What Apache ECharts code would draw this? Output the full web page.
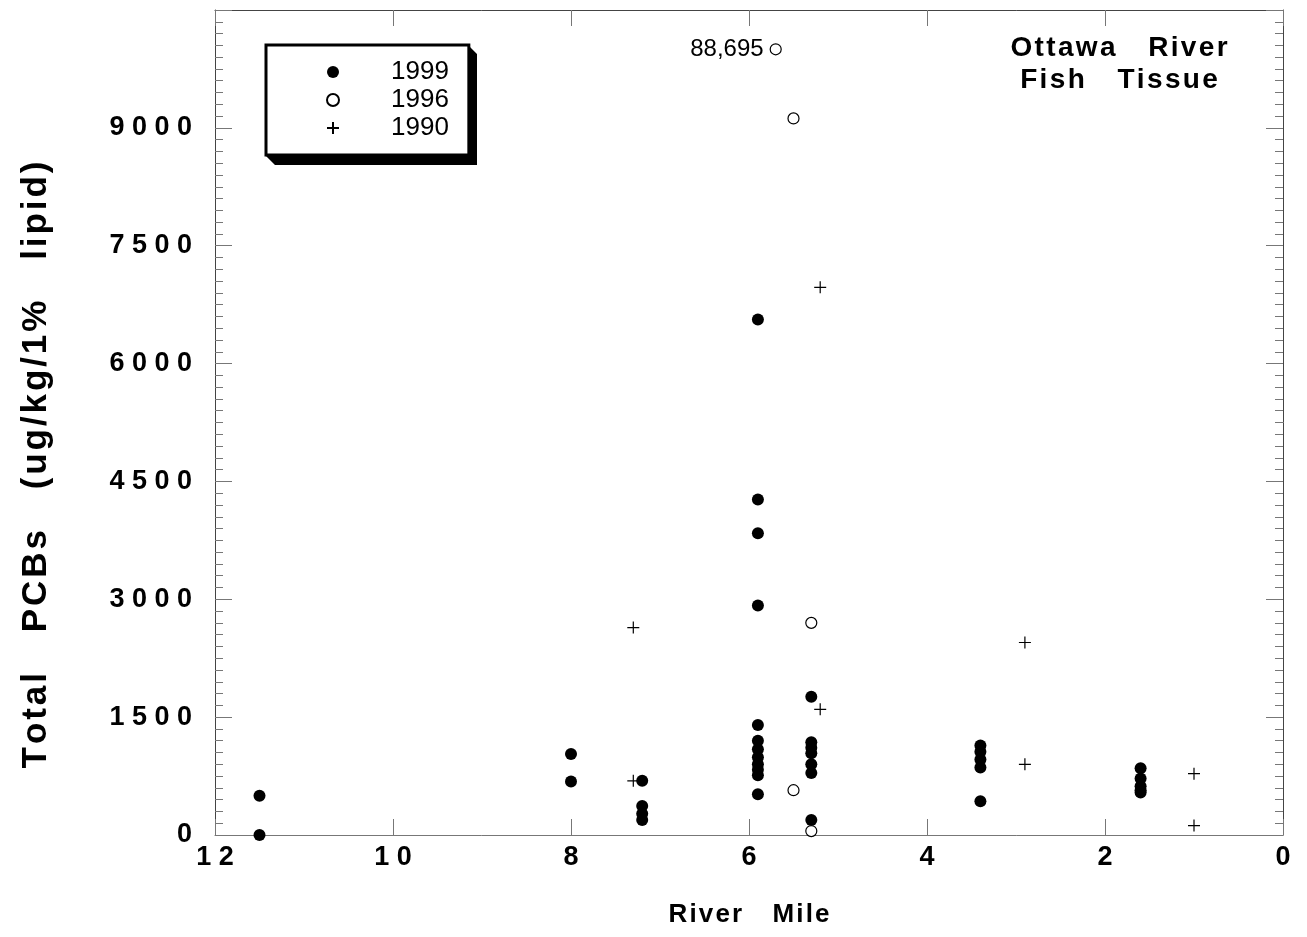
<!DOCTYPE html>
<html>
<head>
<meta charset="utf-8">
<title>Ottawa River Fish Tissue</title>
<script src="https://cdn.jsdelivr.net/npm/echarts@6/dist/echarts.min.js"></script>
<style>
html, body { margin: 0; padding: 0; background: #fff; }
#chart { width: 1307px; height: 937px; }
</style>
</head>
<body>
<div id="chart"></div>
<script>
// [river mile, total PCBs ug/kg/1% lipid]
const fish1999 = [
  [11.5, 500], [11.5, 0],
  [8.0, 1030], [8.0, 680],
  [7.2, 690], [7.2, 370], [7.2, 270], [7.2, 190],
  [5.9, 6560], [5.9, 4270], [5.9, 3840], [5.9, 2920], [5.9, 1400], [5.9, 1200],
  [5.9, 1090], [5.9, 990], [5.9, 900], [5.9, 830], [5.9, 760], [5.9, 520],
  [5.3, 1760], [5.3, 1180], [5.3, 1110], [5.3, 1040], [5.3, 900], [5.3, 790], [5.3, 190],
  [3.4, 1140], [3.4, 1060], [3.4, 960], [3.4, 860], [3.4, 430],
  [1.6, 850], [1.6, 720], [1.6, 620], [1.6, 570], [1.6, 540]
]
const fish1996 = [
  [5.7, 88695], [5.5, 9120], [5.3, 2700], [5.5, 570], [5.3, 50]
]
const fish1990 = [
  [7.3, 2640], [7.3, 690], [5.2, 6970], [5.2, 1600],
  [2.9, 2450], [2.9, 900], [1.0, 780], [1.0, 120]
]
const yearNames = ['1999', '1996', '1990']
const xTicks = { min: 0, max: 12, step: 2 }
const yTicks = { min: 0, max: 10500, step: 1500 }
// off-scale values are drawn at this height, with their value written beside
const offScaleAt = 10000

const FONT = 'Liberation Sans, Arial, sans-serif'
const HAIR = '\u200A'

// the original text is letter-spaced
function spaced(str) {
  return str.split(' ').filter(w => w).map(w => w.split('').join(HAIR)).join(HAIR + '\u2003' + HAIR)
}

function toPoints(arr) {
  return arr.map(([m, v]) => {
    if (v > yTicks.max) {
      return {
        value: [m, offScaleAt],
        label: { show: true, formatter: v.toLocaleString('en-US') }
      }
    }
    return [m, v]
  })
}

let myChart = echarts.init(document.getElementById('chart'))

const tickStyle = { color: '#777', width: 1 }

// legend box 266..468 x 45..156, with a solid bevelled shadow
const lg = { l: 266, t: 45, r: 468, b: 156, d: 9 }

myChart.setOption({
  animation: false,
  backgroundColor: '#fff',
  grid: { left: 215, right: 24, top: 10, bottom: 102 },
  title: {
    text: spaced('Ottawa River') + '\n' + spaced('Fish Tissue'),
    left: 1119,
    top: 32,
    padding: 0,
    textAlign: 'center',
    textStyle: {
      fontFamily: FONT, fontWeight: 'bold', fontSize: 28, lineHeight: 32, color: '#000'
    }
  },
  graphic: [
    {
      type: 'polygon',
      z: 1,
      shape: {
        points: [
          [lg.r, lg.t], [lg.r + lg.d, lg.t + lg.d], [lg.r + lg.d, lg.b + lg.d],
          [lg.l + lg.d, lg.b + lg.d], [lg.l, lg.b], [lg.r, lg.b]
        ]
      },
      style: { fill: '#000' }
    },
    {
      type: 'text',
      x: 36,
      y: 465,
      rotation: Math.PI / 2,
      style: {
        text: spaced('Total PCBs (ug/kg/1% lipid)'),
        font: 'bold 35px ' + FONT,
        fill: '#000',
        align: 'center',
        verticalAlign: 'middle'
      }
    }
  ],
  legend: {
    orient: 'vertical',
    left: lg.l,
    top: lg.t,
    padding: [13, 20, 13, 60],
    itemGap: 0,
    itemWidth: 12,
    itemHeight: 12,
    backgroundColor: '#fff',
    borderColor: '#000',
    borderWidth: 3,
    borderRadius: 0,
    data: yearNames,
    textStyle: {
      fontFamily: FONT, fontSize: 26, lineHeight: 28, color: '#000',
      padding: [0, 0, 0, 47]
    }
  },
  xAxis: [
    {
      type: 'value',
      min: xTicks.min, max: xTicks.max, interval: xTicks.step,
      inverse: true,
      position: 'bottom',
      name: spaced('River Mile'),
      nameLocation: 'middle',
      nameGap: 67,
      nameTextStyle: { fontFamily: FONT, fontWeight: 'bold', fontSize: 26, color: '#000' },
      axisLine: { onZero: false, lineStyle: { color: '#777', width: 1 } },
      axisTick: { inside: true, length: 16, lineStyle: tickStyle },
      axisLabel: {
        margin: 9,
        fontFamily: FONT, fontWeight: 'bold', fontSize: 27, color: '#000',
        formatter: v => String(v).split('').join(' ')
      },
      splitLine: { show: false }
    },
    {
      type: 'value',
      min: xTicks.min, max: xTicks.max, interval: xTicks.step,
      inverse: true,
      position: 'top',
      axisLine: { onZero: false, lineStyle: { color: '#444', width: 1 } },
      axisTick: { inside: true, length: 16, lineStyle: tickStyle },
      axisLabel: { show: false },
      splitLine: { show: false }
    }
  ],
  yAxis: [
    {
      type: 'value',
      min: yTicks.min, max: yTicks.max, interval: yTicks.step,
      position: 'left',
      axisLine: { onZero: false, lineStyle: { color: '#444', width: 1 } },
      axisTick: { inside: true, length: 17, lineStyle: tickStyle },
      minorTick: { show: true, splitNumber: 10, length: 8, lineStyle: tickStyle },
      axisLabel: {
        margin: 23,
        fontFamily: FONT, fontWeight: 'bold', fontSize: 27, color: '#000',
        formatter: v => v === yTicks.max ? '' : String(v).split('').join(' ')
      },
      splitLine: { show: false },
      minorSplitLine: { show: false }
    },
    {
      type: 'value',
      min: yTicks.min, max: yTicks.max, interval: yTicks.step,
      position: 'right',
      axisLine: { onZero: false, lineStyle: { color: '#444', width: 1 } },
      axisTick: { inside: true, length: 17, lineStyle: tickStyle },
      minorTick: { show: true, splitNumber: 10, length: 8, lineStyle: tickStyle },
      axisLabel: { show: false },
      splitLine: { show: false }
    }
  ],
  series: [
    {
      name: '1999',
      type: 'scatter',
      symbol: 'circle',
      symbolSize: 12,
      itemStyle: { color: '#000', opacity: 1 },
      data: toPoints(fish1999)
    },
    {
      name: '1996',
      type: 'scatter',
      symbol: 'circle',
      symbolSize: 11,
      itemStyle: { color: '#fff', borderColor: '#000', borderWidth: 1.2, opacity: 1 },
      label: {
        position: 'left',
        distance: 6,
        fontFamily: FONT, fontSize: 24, color: '#000'
      },
      data: toPoints(fish1996)
    },
    {
      name: '1990',
      type: 'scatter',
      symbol: 'path://M6,0L6,12M0,6L12,6',
      symbolSize: 12,
      itemStyle: { color: 'rgba(0,0,0,0)', borderColor: '#000', borderWidth: 1.2, opacity: 1 },
      data: toPoints(fish1990)
    }
  ]
})

window.addEventListener('resize', () => {
  myChart.resize()
})
</script>
</body>
</html>
